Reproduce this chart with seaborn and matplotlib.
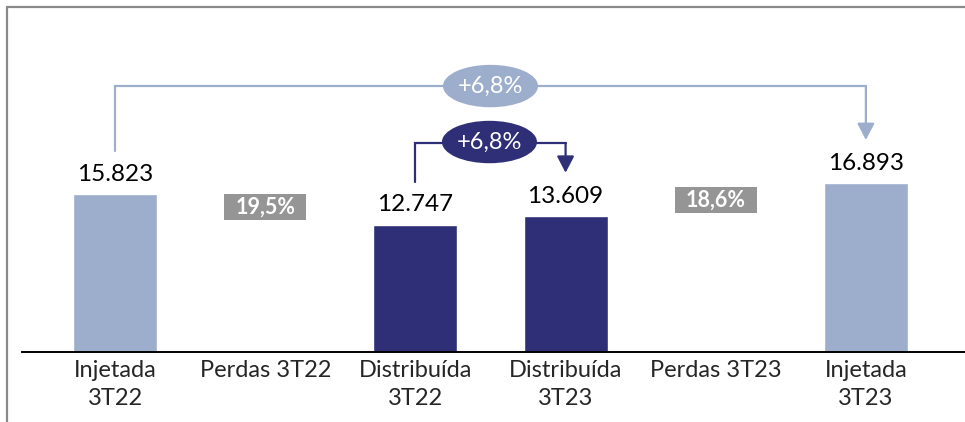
import matplotlib
matplotlib.use("Agg")
import matplotlib.pyplot as plt
import seaborn as sns
import pandas as pd
from matplotlib.patches import Ellipse, Rectangle
from matplotlib.lines import Line2D

# data
categorias = ["Injetada\n3T22", "Perdas 3T22", "Distribuída\n3T22",
              "Distribuída\n3T23", "Perdas 3T23", "Injetada\n3T23"]
valores = [15823, 0, 12747, 13609, 0, 16893]
rotulos = ["15.823", "", "12.747", "13.609", "", "16.893"]
perdas_idx = [1, 4]
perdas_txt = ["19,5%", "18,6%"]
perdas_y = [14530, 15230]
var_txt = ["+6,8%", "+6,8%"]

CLARO = "#9daecd"
ESCURO = "#2f2f78"
CINZA = "#959595"
cores = [CLARO, CLARO, ESCURO, ESCURO, CLARO, CLARO]

df = pd.DataFrame({"cat": categorias, "valor": valores})

sns.set_style("white")
plt.rcParams["font.family"] = ["Lato", "DejaVu Sans"]

fig = plt.figure(figsize=(9.65, 4.22), dpi=100)
ax = fig.add_axes([22 / 965, 70 / 422, 943 / 965, 330 / 422])

sns.barplot(data=df, x="cat", y="valor", hue="cat", order=categorias,
            palette=dict(zip(categorias, cores)), width=0.56,
            legend=False, ax=ax, saturation=1)

ax.set_xlim(-0.62, 5.66)
ax.set_ylim(0, 33066)
ax.set_xlabel("")
ax.set_ylabel("")
ax.set_yticks([])
for s in ["top", "right", "left"]:
    ax.spines[s].set_visible(False)
ax.spines["bottom"].set_color("black")
ax.spines["bottom"].set_linewidth(1.4)
ax.tick_params(axis="x", length=0, pad=6, labelsize=17)
for lbl in ax.get_xticklabels():
    lbl.set_linespacing(1.38)

# value labels
for i, (v, t) in enumerate(zip(valores, rotulos)):
    if t:
        ax.text(i, v + 2000, t, ha="center", va="center", fontsize=17.5, color="black")

# loss boxes
for i, t, y in zip(perdas_idx, perdas_txt, perdas_y):
    ax.add_patch(Rectangle((i - 0.273, y - 1350), 0.547, 2700,
                           facecolor=CINZA, edgecolor="none", zorder=3))
    ax.text(i, y, t, ha="center", va="center", fontsize=15.5, color="white",
            fontweight="bold", zorder=4)

# connectors
def conector(i0, i1, nivel, cor, texto, yelip):
    y0 = valores[i0] + 4300
    y1 = valores[i1] + 4350
    ax.plot([i0, i0, i1], [y0, nivel, nivel], color=cor, lw=1.6,
            solid_joinstyle="miter", zorder=2)
    ax.annotate("", xy=(i1, y1), xytext=(i1, nivel),
                arrowprops=dict(arrowstyle="-|>,head_length=1.0,head_width=0.52",
                                mutation_scale=10, color=cor, lw=1.6,
                                shrinkA=0, shrinkB=0), zorder=2)
    xm = (i0 + i1) / 2 if i1 - i0 > 1 else 2.493
    ax.add_patch(Ellipse((xm, yelip), 0.633, 4250, facecolor=cor,
                         edgecolor="none", zorder=5))
    ax.text(xm, yelip, texto, ha="center", va="center", color="white",
            fontsize=17, zorder=6)

conector(0, 5, 26650, CLARO, var_txt[0], 26650)
conector(2, 3, 20940, ESCURO, var_txt[1], 21040)

# outer frame
fig.add_artist(Line2D([7 / 965, 7 / 965], [0, 1 - 7 / 422],
                      transform=fig.transFigure, color="#8a8a8a", lw=1.6))
fig.add_artist(Line2D([7 / 965, 1], [1 - 7 / 422, 1 - 7 / 422],
                      transform=fig.transFigure, color="#8a8a8a", lw=1.6))

fig.savefig("out.png", dpi=100)
